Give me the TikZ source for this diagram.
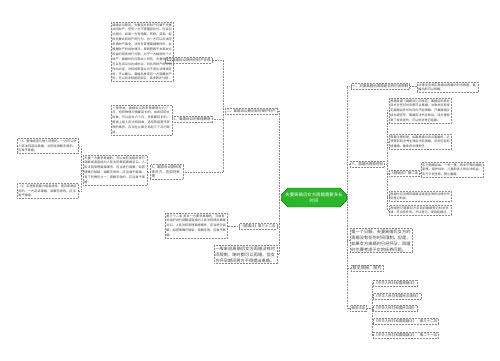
\documentclass[tikz,border=0pt]{standalone}
\usepackage{fontspec}
\setmainfont{Noto Sans CJK SC}
\XeTeXlinebreaklocale "zh"
\XeTeXlinebreakskip = 0pt plus 0.5pt
\usetikzlibrary{shapes.misc,positioning,calc}
\definecolor{mapgreen}{HTML}{2DB52D}
\definecolor{linegray}{HTML}{8C8C8C}

\begin{document}
\begin{tikzpicture}[x=1pt,y=-1pt,
    notebox/.style={draw=linegray, densely dotted, line width=0.5pt, align=left, inner sep=1.2pt, text=black!75, font=\fontsize{3.1}{4.9}\selectfont},
    bigbox/.style={notebox, font=\fontsize{4.2}{6}\selectfont},
    topic/.style={notebox, font=\fontsize{3.5}{4.5}\selectfont},
    link/.style={draw=linegray, densely dotted, line width=0.6pt}]
    \useasboundingbox (0,0) rectangle (500,360);

    % center
    \node[chamfered rectangle, chamfered rectangle xsep=3pt, fill=mapgreen, draw=green!45!black, text=white, align=center,
          minimum width=62pt, minimum height=19pt, inner sep=1pt, font=\fontsize{4.4}{5.6}\selectfont] (ctr) at (314,197.5)
          {夫妻离婚后女方再婚需要多长\\时间};

    % left: branch two
    \node[topic, anchor=east] (l1) at (277,111) {二、离婚诉讼期间如何保护财产};
    \node[topic, anchor=east] (a1) at (212,60) {1、离婚诉讼期间的财产处理};
    \node[topic, anchor=east] (a2) at (212,119.5) {2、离婚诉讼的审理期限};
    \node[topic, anchor=east, text width=30pt] (a3) at (183,172) {3、离婚诉讼期间发现对方，应如何处理};
    \node[notebox, anchor=north west, text width=59.6pt] (boxA) at (111,22)
        {离婚诉讼期间，夫妻双方的财产仍属于夫妻共同财产，任何一方不得擅自处分。在诉讼过程中，如果一方有隐藏、转移、变卖、毁损夫妻共同财产的行为，另一方可以向法院申请财产保全。法院在审理离婚案件时，会根据财产的具体情况，按照照顾子女和女方权益的原则进行分割。对于一方婚前的个人财产，离婚时仍归其本人所有。夫妻双方也可以在诉讼中达成协议，对共同财产的分割作出约定，法院经审查认为不违反法律规定的，予以确认。离婚后发现另一方隐藏财产的，可以向法院提起诉讼，请求再次分割。};
    \node[notebox, anchor=north west, text width=58.6pt] (boxB) at (111,105)
        {一般来说，离婚诉讼的审理期限为六个月，有特殊情况需要延长的，由本院院长批准，可以延长六个月；还需要延长的，报请上级人民法院批准。适用简易程序审理的案件，应当在立案之日起三个月内审结。};
    \node[notebox, anchor=north west, text width=61.6pt] (boxC) at (83,155)
        {夫妻一方要求离婚的，可以由有关组织进行调解或者直接向人民法院提起离婚诉讼。人民法院审理离婚案件，应当进行调解；如感情确已破裂，调解无效的，应当准予离婚。有下列情形之一，调解无效的，应当准予离婚：};
    \node[notebox, anchor=north west, text width=58.6pt] (d1) at (17,138)
        {（1）重婚或者与他人同居的，一方可以向人民法院起诉离婚，法院经调解无效的，应准予离婚；};
    \node[notebox, anchor=north west, text width=58.6pt] (d2) at (17,183)
        {（2）实施家庭暴力或者虐待、遗弃家庭成员的，一方起诉离婚，调解无效的，应当准予离婚。};

    % left: law and note
    \node[topic, anchor=east] (l2) at (277,226) {《婚姻法》第三十二条};
    \node[notebox, anchor=north west, text width=59.6pt] (boxE) at (165,213)
        {第三十二条\ 男女一方要求离婚的，可由有关组织进行调解或直接向人民法院提出离婚诉讼。人民法院审理离婚案件，应当进行调解；如感情确已破裂，调解无效，应准予离婚。};
    \node[bigbox, anchor=north west, text width=60.6pt] (l3) at (214,245)
        {一般来说离婚后女方再婚没有时间限制，随时都可以再婚，但女方怀孕期间男方不得提出离婚。};

    % right branches
    \node[topic, anchor=west] (r1) at (351,86) {一、夫妻离婚后再婚是否有时间限制};
    \node[notebox, anchor=north west, text width=58.6pt] (g1) at (417,82)
        {法律没有规定离婚后再婚的时间限制，离婚后即可以再婚。};
    \node[topic, anchor=west] (r2) at (350,164) {三、离婚后再婚须知};
    \node[notebox, anchor=north west, text width=59.6pt] (h1) at (389,98)
        {根据我国《婚姻法》的规定，离婚后的男女双方在任何时间都可以再婚，法律并没有规定离婚后多长时间内不能再婚。只要离婚手续办理完毕，离婚判决书生效后，双方便恢复了单身身份，可以依法登记结婚。};
    \node[notebox, anchor=north west, text width=59.6pt] (h2) at (389,134)
        {需要注意的是，如果是通过诉讼离婚的，必须等到判决书生效后才能再婚，否则可能构成重婚，要承担法律责任。};
    \node[topic, anchor=west] (h3) at (389,173) {《婚姻法》第二条};
    \node[notebox, anchor=north west, text width=59.6pt] (i1) at (421,162)
        {实行婚姻自由、一夫一妻、男女平等的婚姻制度。保护妇女、儿童和老人的合法权益。实行计划生育。禁止重婚。};
    \node[notebox, anchor=north west, text width=59.6pt] (h4) at (389,191)
        {再婚时应当携带离婚证或者生效的法律文书到登记机关。};
    \node[notebox, anchor=north west, text width=59.6pt] (h5) at (389,205)
        {再婚登记需要双方亲自到婚姻登记机关申请，符合条件的，予以登记，发给结婚证。};
    \node[bigbox, anchor=north west, text width=59.6pt] (r3) at (350,228)
        {第一个见解，夫妻离婚后女方的再婚没有任何时间限制。但是，如果女方离婚时已经怀孕，再婚时也要考虑子女的抚养问题。};
    \node[topic, anchor=west, font=\fontsize{4.2}{5}\selectfont] (r4) at (351,268) {意见填报：图片};
    \node[topic, anchor=west] (r5) at (350,308.5) {相关法条};
    \node[topic, anchor=west] (k1) at (373,283) {《中华人民共和国婚姻法》};
    \node[topic, anchor=west] (k2) at (373,296) {《中华人民共和国民法通则》};
    \node[topic, anchor=west] (k3) at (373,308.5) {《中华人民共和国民法典》};
    \node[topic, anchor=west] (k4) at (373,321.5) {《中华人民共和国婚姻法》\quad 第三十二条};
    \node[topic, anchor=west] (k5) at (373,335) {《中华人民共和国婚姻法》\quad 第二十一条};

    % connectors left
    \foreach \n in {l1,l2,l3} \draw[link] (ctr.west) -- (279,197.5) |- (\n.east);
    \foreach \n in {a1,a2,a3} \draw[link] (l1.west) -- ++(-2,0) |- (\n.east);
    \draw[link] (a1.west) -- (a1.west -| boxA.east);
    \draw[link] (a2.west) -- (a2.west -| boxB.east);
    \draw[link] (a3.west) -- (a3.west -| boxC.east);
    \foreach \n in {d1,d2} \draw[link] (boxC.west) -- ++(-2,0) |- (\n.east);
    \draw[link] (l2.west) -- (l2.west -| boxE.east);

    % connectors right
    \foreach \n in {r1,r2,r3,r4,r5} \draw[link] (ctr.east) -- (347,197.5) |- (\n.west);
    \draw[link] (r1.east) -- (r1.east -| g1.west);
    \foreach \n in {h1,h2,h3,h4,h5} \draw[link] (r2.east) -- (387,164) |- (\n.west);
    \draw[link] (h3.east) -- (h3.east -| i1.west);
    \foreach \n in {k1,k2,k3,k4,k5} \draw[link] (r5.east) -- (372,308.5) |- (\n.west);
\end{tikzpicture}
\end{document}
